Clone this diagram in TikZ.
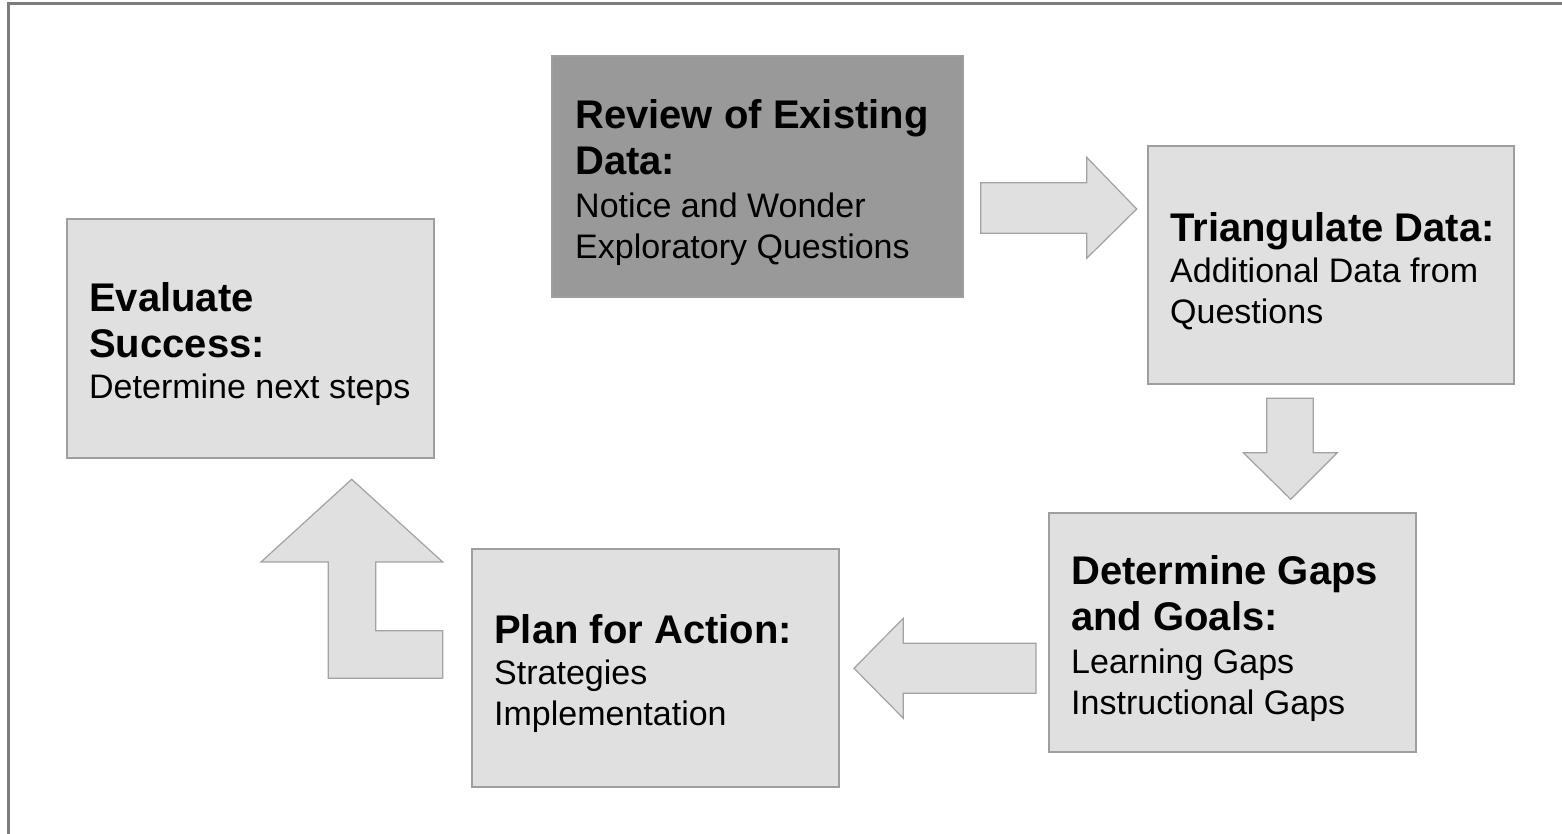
\documentclass[tikz,border=0pt]{standalone}
\usepackage{fontspec}
\setmainfont{Liberation Sans}

\newcommand{\titlefont}{\fontsize{40}{46}\selectfont\bfseries\spaceskip=0pt\xspaceskip=0pt\relax}
\newcommand{\bodyfont}{\fontsize{34}{41}\selectfont\mdseries\spaceskip=0pt\xspaceskip=0pt\relax}

\begin{document}
\begin{tikzpicture}[
        x=1pt, y=-1pt,
        stepbox/.style={rectangle, fill=boxgray, draw=boxedge, line width=1.5pt, outer sep=0pt, anchor=north west},
        steptext/.style={anchor=west, align=left, text width=360pt, inner sep=0pt, yshift=-6pt, text=black},
        blockarrow/.style={fill=boxgray, draw=arrowedge, line width=1.2pt, line join=miter},
        frame/.style={draw=framegray, line width=2.5pt}
    ]

        \definecolor{boxgray}{RGB}{224, 224, 224}
        \definecolor{darkgray}{RGB}{153, 153, 153}
        \definecolor{boxedge}{RGB}{158, 158, 158}
        \definecolor{arrowedge}{RGB}{162, 162, 162}
        \definecolor{framegray}{RGB}{125, 125, 125}

        \useasboundingbox (0, 0) rectangle (1562, 834);
        \draw[frame] (8.5, 834) -- (8.5, 3.5) -- (1562, 3.5);

        % the five steps
        \node[stepbox, fill=darkgray, minimum width=411pt, minimum height=241pt] (review) at (552, 56) {};
        \node[steptext] (review_text) at ([xshift=23pt]review.west)
            {\titlefont Review of Existing\\ Data:\par\vspace{2pt}
             \bodyfont Notice and Wonder\\ Exploratory Questions\par};

        \node[stepbox, minimum width=366pt, minimum height=238pt] (triang) at (1148, 146) {};
        \node[steptext] (triang_text) at ([xshift=22pt]triang.west)
            {\titlefont Triangulate Data:\par
             \bodyfont Additional Data from\\ Questions\par};

        \node[stepbox, minimum width=367pt, minimum height=239pt] (gaps) at (1049, 513) {};
        \node[steptext] (gaps_text) at ([xshift=22pt]gaps.west)
            {\titlefont Determine Gaps\\ and Goals:\par\vspace{2pt}
             \bodyfont Learning Gaps\\ Instructional Gaps\par};

        \node[stepbox, minimum width=367pt, minimum height=238pt] (plan) at (472, 549) {};
        \node[steptext] (plan_text) at ([xshift=22pt]plan.west)
            {\titlefont Plan for Action:\par
             \bodyfont Strategies\\ Implementation\par};

        \node[stepbox, minimum width=367pt, minimum height=239pt] (evaluate) at (67, 219) {};
        \node[steptext] (evaluate_text) at ([xshift=22pt]evaluate.west)
            {\titlefont Evaluate\\ Success:\par
             \bodyfont Determine next steps\par};

        % block arrows between the steps
        \draw[blockarrow] (980.7, 182.7) -- (1086.7, 182.7) -- (1086.7, 157.3) -- (1136.7, 209)
            -- (1086.7, 258.3) -- (1086.7, 233.3) -- (980.7, 233.3) -- cycle;

        \draw[blockarrow] (1266.7, 398.3) -- (1313.3, 398.3) -- (1313.3, 452.7) -- (1337.3, 452.7)
            -- (1290.7, 499.3) -- (1243.3, 452.7) -- (1266.7, 452.7) -- cycle;

        \draw[blockarrow] (1036, 643.3) -- (903.3, 643.3) -- (903.3, 618.3) -- (854, 668.3)
            -- (903.3, 718.3) -- (903.3, 693.3) -- (1036, 693.3) -- cycle;

        \draw[blockarrow] (351.7, 479.3) -- (442.7, 562) -- (375.7, 562) -- (375.7, 630.7)
            -- (442.7, 630.7) -- (442.7, 678.3) -- (328.3, 678.3) -- (328.3, 562)
            -- (261, 562) -- cycle;

    \end{tikzpicture}
\end{document}
